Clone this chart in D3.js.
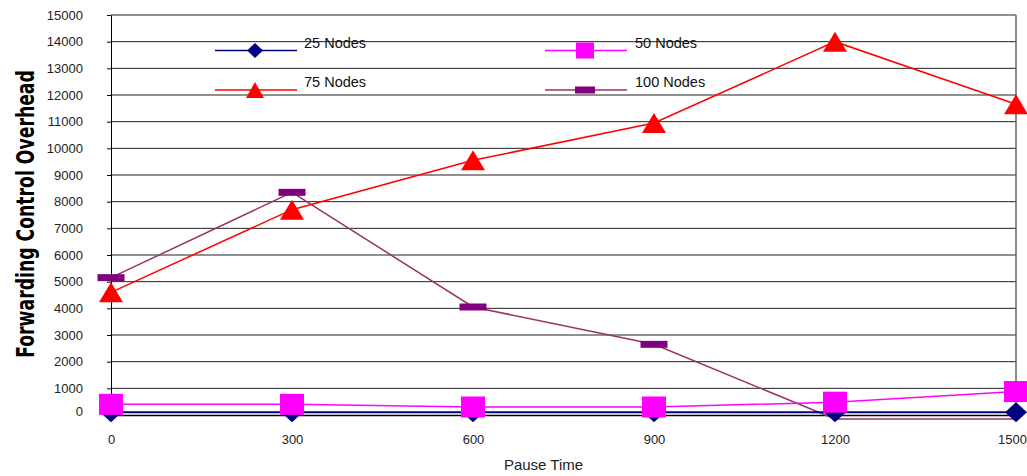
<!DOCTYPE html>
<html>
<head>
<meta charset="utf-8">
<script src="https://cdn.jsdelivr.net/npm/d3@7"></script>
<style>
  html, body { margin: 0; padding: 0; background: #fff; }
  svg { display: block; font-family: "Liberation Sans", Arial, sans-serif; }
</style>
</head>
<body>
<svg id="chart" width="1027" height="476"></svg>
<script>
// Pause time (s) on the x axis
const pauseTimes = [0, 300, 600, 900, 1200, 1500];
const yTicks = [0, 1000, 2000, 3000, 4000, 5000, 6000, 7000, 8000, 9000, 10000, 11000, 12000, 13000, 14000, 15000];

// Forwarding control overhead per network size
const nodes25  = [100, 100, 100, 100, 100, 100];
const nodes50  = [400, 400, 300, 300, 480, 880];
const nodes75  = [4600, 7700, 9550, 10950, 14000, 11650];
const nodes100 = [5150, 8350, 4050, 2650, -150, -150];

const seriesNames = ["25 Nodes", "50 Nodes", "75 Nodes", "100 Nodes"];

const svg = d3.select("#chart");
const plotLeft = 111, plotRight = 1016, plotTop = 15, plotBottom = 415;

const x = d3.scaleLinear().domain([0, 1500]).range([plotLeft, plotRight]);
const y = d3.scaleLinear().domain([0, 15000]).range([plotBottom, plotTop]);

// Horizontal gridlines
svg.append("g").selectAll("line")
  .data(yTicks.filter(d => d > 0))
  .join("line")
  .attr("x1", plotLeft).attr("x2", plotRight)
  .attr("y1", d => y(d)).attr("y2", d => y(d))
  .attr("stroke", "#222").attr("stroke-width", 1);

// Right border
svg.append("line")
  .attr("x1", plotRight).attr("x2", plotRight)
  .attr("y1", plotTop).attr("y2", plotBottom)
  .attr("stroke", "#666").attr("stroke-width", 1.5);

// Y axis
const yAxis = svg.append("g")
  .attr("transform", `translate(${plotLeft},0)`)
  .call(d3.axisLeft(y).tickValues(yTicks).tickFormat(d3.format("d"))
    .tickSize(4).tickSizeOuter(0).tickPadding(24));
yAxis.selectAll("text").attr("font-size", 13).attr("fill", "#222")
  .attr("font-family", "Liberation Sans, Arial, sans-serif")
  .attr("dy", d => d === 0 ? "0.0em" : "0.32em");
yAxis.selectAll("line, path").attr("stroke", "#000");

// X axis
const xAxis = svg.append("g")
  .attr("transform", `translate(0,${plotBottom})`)
  .call(d3.axisBottom(x).tickValues(pauseTimes).tickFormat(d3.format("d"))
    .tickSize(0).tickSizeOuter(0).tickPadding(20));
xAxis.selectAll("text").attr("font-size", 13).attr("fill", "#222")
  .attr("font-family", "Liberation Sans, Arial, sans-serif")
  .attr("dx", d => d === 1500 ? -4 : 0);
xAxis.select("path").attr("stroke", "#000").attr("stroke-width", 1.5);

// Axis titles
svg.append("text")
  .attr("x", (plotLeft + plotRight) / 2 - 20).attr("y", 470)
  .attr("text-anchor", "middle")
  .attr("font-size", 15).attr("fill", "#222")
  .text("Pause Time");

// Tall, narrow bold title: condensed along the reading direction
svg.append("text")
  .attr("transform", `translate(34,214) rotate(-90) scale(0.69,1)`)
  .attr("text-anchor", "middle")
  .attr("font-family", "DejaVu Sans, sans-serif")
  .attr("font-weight", "bold")
  .attr("font-size", 25)
  .attr("fill", "#000")
  .text("Forwarding Control Overhead");

// Marker shapes (w, h = full width/height)
function markerPath(kind, w, h) {
  const a = w / 2, b = h / 2;
  if (kind === "diamond") return `M0,${-b}L${a},0L0,${b}L${-a},0Z`;
  if (kind === "square") return `M${-a},${-b}H${a}V${b}H${-a}Z`;
  if (kind === "triangle") return `M0,${-b}L${a},${b}L${-a},${b}Z`;
  return `M${-a},${-b}H${a}V${b}H${-a}Z`;
}

const series = [
  { name: seriesNames[0], values: nodes25,  line: "#000080", marker: "#000080", kind: "diamond",  lw: 2,   mw: 22, mh: 20, lgw: 16, lgh: 15 },
  { name: seriesNames[1], values: nodes50,  line: "#FF00FF", marker: "#FF00FF", kind: "square",   lw: 1.5, mw: 24, mh: 21, lgw: 18, lgh: 16 },
  { name: seriesNames[2], values: nodes75,  line: "#FF0000", marker: "#FF0000", kind: "triangle", lw: 1.5, mw: 24, mh: 20, lgw: 18, lgh: 16 },
  { name: seriesNames[3], values: nodes100, line: "#993366", marker: "#800080", kind: "dash",     lw: 1.5, mw: 27, mh: 7,  lgw: 20, lgh: 7 }
];

const line = d3.line().x((d, i) => x(pauseTimes[i])).y(d => y(d));

// Draw lines and markers
const drawOrder = [series[3], series[2], series[0], series[1]];
drawOrder.forEach(s => {
  svg.append("path")
    .attr("d", line(s.values))
    .attr("fill", "none")
    .attr("stroke", s.line)
    .attr("stroke-width", s.lw);
});
drawOrder.forEach(s => {
  svg.append("g").selectAll("path")
    .data(s.values.map((v, i) => ({ v, t: pauseTimes[i] })).filter(d => d.v >= 0))
    .join("path")
    .attr("transform", d => `translate(${x(d.t)},${y(d.v)})`)
    .attr("d", markerPath(s.kind, s.mw, s.mh))
    .attr("fill", s.marker);
});

// Legend (two columns, two rows)
const legendPos = [
  { lx: 215, ly: 50.5, tx: 304 },
  { lx: 545, ly: 50.5, tx: 635 },
  { lx: 215, ly: 90,   tx: 304 },
  { lx: 545, ly: 90,   tx: 635 }
];
series.forEach((s, i) => {
  const p = legendPos[i];
  const g = svg.append("g");
  g.append("line")
    .attr("x1", p.lx).attr("x2", p.lx + 82)
    .attr("y1", p.ly).attr("y2", p.ly)
    .attr("stroke", s.line).attr("stroke-width", 1.5);
  g.append("path")
    .attr("transform", `translate(${p.lx + 40},${p.ly})`)
    .attr("d", markerPath(s.kind, s.lgw, s.lgh))
    .attr("fill", s.marker);
  g.append("text")
    .attr("x", p.tx).attr("y", p.ly - 3)
    .attr("font-size", 14.5).attr("fill", "#111")
    .text(s.name);
});
</script>
</body>
</html>
